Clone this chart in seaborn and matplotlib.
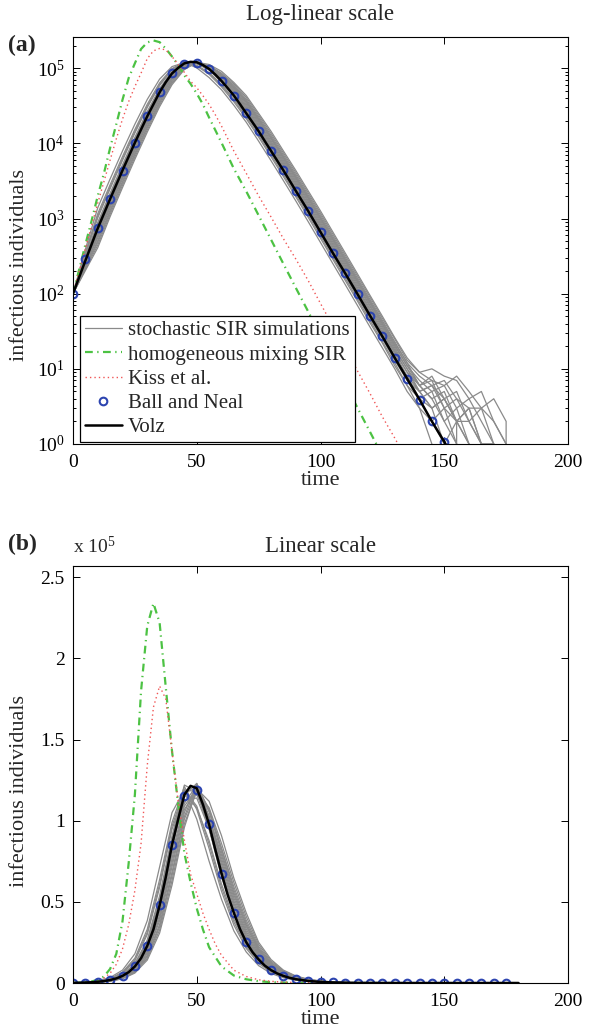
import matplotlib
matplotlib.use("Agg")
import matplotlib.pyplot as plt
import seaborn as sns
import pandas as pd
from matplotlib.lines import Line2D
from matplotlib.ticker import LogLocator, NullFormatter

# ---- values ----
# Volz (black line)
volz_t = [0, 2.5, 5, 7.5, 10, 12.5, 15, 17.5, 20, 22.5, 25, 27.5, 30, 32.5, 35, 37.5,
          40, 42.5, 45, 47.5, 50, 52.5, 55, 57.5, 60, 62.5, 65, 67.5, 70, 72.5, 75,
          77.5, 80, 82.5, 85, 87.5, 90, 95, 100, 105, 110, 115, 120, 125, 130, 135,
          140, 145, 150, 155, 160, 165, 170, 175, 180]
volz_I = [100, 166, 275, 452, 741, 1160, 1820, 2820, 4370, 6680, 10200, 15300, 22900, 33100, 47900, 65300,
          85100, 101000, 116000, 121500, 120000, 110000, 97700, 82200, 67600, 54300, 43200, 33100, 25100, 19100, 14500,
          10700, 7940, 5890, 4370, 3200, 2340, 1260, 660, 347, 186, 98, 51, 27, 14, 7.4,
          3.9, 2.0, 1.07, 0.56, 0.30, 0.16, 0.08, 0.04, 0.02]

# Ball and Neal (circles)
bn_t = list(range(0, 180, 5))
bn_I = [100, 290, 740, 1820, 4300, 10200, 23000, 48000, 85000, 115000,
        119000, 98000, 67000, 43000, 25000, 14500, 7900, 4400, 2350, 1260,
        660, 350, 186, 98, 51, 27, 14, 7.4, 3.8, 2.0,
        1.07, 0.56, 0.30, 0.16, 0.08, 0.04]

# homogeneous mixing SIR (green dash-dot)
hom_t = [0, 2.5, 5, 7.5, 10, 12.5, 15, 17.5, 20, 22.5, 25, 27.5, 30, 32.5, 35, 37.5, 40,
         42.5, 45, 47.5, 50, 52.5, 55, 60, 65, 70, 75, 80, 85, 90, 95, 100, 105, 110,
         115, 120, 125, 130]
hom_I = [100, 210, 450, 930, 2000, 4000, 8700, 18000, 38000, 74000,
         116000, 180000, 220000, 234000, 222000, 182000, 143000, 110000, 80000, 62000,
         46000, 33000, 22000, 10200, 4600, 2300, 1100, 525, 250, 120,
         58, 28, 13, 6.3, 3.0, 1.45, 0.7, 0.33]

# Kiss et al. (red dotted)
kiss_t = [0, 2.5, 5, 7.5, 10, 12.5, 15, 17.5, 20, 22.5, 25, 27.5, 30, 32.5, 35, 37.5, 40,
          42.5, 45, 47.5, 50, 52.5, 55, 57.5, 60, 65, 70, 75, 80, 85, 90, 95, 100, 105,
          110, 115, 120, 125, 130, 135]
kiss_I = [100, 200, 400, 800, 1600, 3100, 6000, 11500, 21000, 36000,
          57000, 86000, 134000, 170000, 183000, 175000, 143000, 112000, 88000, 67000,
          55000, 43000, 33000, 24000, 17000, 7900, 4000, 2000, 1050, 540,
          290, 150, 74, 37, 19, 9.3, 4.7, 2.3, 1.2, 0.6]

# stochastic SIR simulations (grey), sampled every 5 time units
sim_t = list(range(0, 185, 5))
sim_runs = [
    [100, 355, 1160, 2820, 6680, 15300, 33100, 63800, 98900, 121000, 107000, 82800, 56500, 35700,
     21300, 12100, 6640, 3620, 1950, 1040, 545, 286, 150, 79, 41, 22, 11, 6, 3, 2, 1, 0, 0, 0, 0, 0, 0],
    [100, 339, 1080, 2630, 6240, 14400, 31200, 61000, 96600, 119000, 109000, 85500, 58900, 37600,
     22500, 12800, 7050, 3850, 2070, 1110, 581, 305, 160, 84, 44, 23, 12, 6, 4, 2, 3, 1, 0, 0, 0, 0, 0],
    [100, 329, 1020, 2490, 5930, 13700, 29900, 58900, 94800, 116000, 108000, 87700, 61000, 39400,
     23800, 13600, 7480, 4100, 2200, 1180, 620, 325, 171, 90, 47, 25, 13, 7, 4, 5, 2, 1, 0, 0, 0, 0, 0],
    [100, 304, 887, 2170, 5180, 12000, 26500, 53700, 90400, 122000, 118000, 95000, 65500, 43000,
     25900, 14900, 8240, 4530, 2430, 1310, 687, 361, 189, 99, 52, 27, 14, 8, 4, 3, 1, 2, 0, 0, 0, 0, 0],
    [100, 295, 841, 2060, 4920, 11500, 25400, 51900, 88700, 119000, 118000, 95100, 67300, 44300,
     26800, 15500, 8530, 4690, 2520, 1360, 714, 375, 197, 103, 54, 28, 15, 7, 5, 3, 4, 2, 2, 1, 0, 0, 0],
    [100, 286, 796, 1950, 4670, 10900, 24300, 50100, 87100, 113000, 114000, 95000, 69200, 45700,
     28000, 16100, 8950, 4920, 2650, 1430, 752, 394, 207, 109, 57, 30, 16, 8, 5, 6, 3, 2, 1, 0, 0, 0, 0],
    [100, 275, 741, 1820, 4370, 10200, 22900, 47900, 85100, 112000, 116000, 99100, 71100, 47400,
     29200, 16900, 9400, 5160, 2790, 1500, 791, 415, 218, 114, 60, 31, 17, 9, 6, 4, 2, 3, 1, 0, 0, 0, 0],
    [100, 267, 698, 1730, 4140, 9730, 21800, 45800, 82200, 115500, 123000, 102000, 73100, 49100,
     30500, 17600, 9860, 5420, 2930, 1570, 834, 438, 230, 120, 63, 33, 17, 9, 5, 3, 4, 2, 1, 0, 0, 0, 0],
    [100, 259, 658, 1630, 3930, 9250, 20800, 43900, 79400, 110700, 122000, 101600, 75000, 50700,
     31800, 18500, 10300, 5680, 3080, 1660, 877, 460, 242, 127, 67, 35, 18, 10, 5, 6, 4, 2, 3, 1, 1, 0, 0],
    [100, 251, 621, 1550, 3730, 8770, 19800, 41900, 76700, 109000, 119500, 103000, 76900, 52500,
     33300, 19300, 10800, 5960, 3240, 1740, 925, 485, 255, 134, 70, 37, 19, 10, 6, 7, 3, 4, 2, 1, 0, 0, 0],
    [100, 244, 585, 1470, 3540, 8340, 18900, 40100, 74100, 107000, 118500, 102000, 78900, 54200,
     34800, 20100, 11400, 6250, 3400, 1830, 973, 511, 268, 141, 74, 39, 20, 11, 7, 5, 6, 3, 4, 2, 1, 0, 0],
    [100, 237, 551, 1390, 3360, 7920, 18000, 38400, 71600, 105000, 123000, 105500, 80700, 55700,
     35900, 20800, 11800, 6490, 3530, 1900, 1010, 531, 279, 146, 77, 40, 21, 11, 6, 4, 5, 2, 3, 1, 1, 0, 0],
    [100, 227, 509, 1290, 3130, 7400, 16900, 36100, 68400, 102600, 121600, 107000, 82800, 57400,
     37100, 21500, 12200, 6710, 3660, 1970, 1050, 552, 290, 152, 80, 42, 22, 12, 8, 6, 7, 4, 3, 3, 2, 1, 0],
    [100, 220, 480, 1220, 2970, 7030, 16100, 34600, 66100, 101000, 119000, 106000, 83000, 59300,
     38700, 22500, 12800, 7050, 3850, 2070, 1110, 581, 305, 160, 84, 44, 23, 12, 6, 8, 4, 5, 2, 3, 1, 0, 0],
    [100, 212, 443, 1140, 2770, 6580, 15100, 32700, 63100, 98200, 118000, 108000, 86000, 61900,
     40900, 23800, 13600, 7480, 4100, 2200, 1180, 620, 325, 171, 90, 47, 25, 13, 9, 7, 6, 8, 5, 3, 4, 2, 0],
    [100, 203, 409, 1060, 2580, 6140, 14100, 30800, 60300, 95900, 119700, 112000, 90800, 64600,
     43200, 25100, 14500, 7940, 4370, 2340, 1260, 661, 347, 182, 95, 50, 26, 14, 9, 10, 8, 7, 4, 5, 2, 1, 0],
    [100, 389, 1390, 3360, 7920, 18000, 38400, 71600, 105000, 119000, 101000, 75000, 51600, 32100,
     19100, 10700, 5890, 3200, 1720, 912, 479, 251, 132, 69, 36, 19, 10, 5, 3, 1, 0, 0, 0, 0, 0, 0, 0],
]

legend_labels = ['stochastic SIR simulations', 'homogeneous mixing SIR',
                 'Kiss et al.', 'Ball and Neal', 'Volz']

sim_df = pd.DataFrame([(k, t, v) for k, run in enumerate(sim_runs) for t, v in zip(sim_t, run)],
                      columns=['run', 't', 'I'])

GREY = '#8a8a8a'
GREEN = '#4cc243'
RED = '#f05555'
BLUE = '#2c44b0'
DASHDOT = (0, (3.5, 2.0, 0.6, 2.0))
DOTTED = (0, (1.0, 2.2))

sns.set_theme(style='ticks')
plt.rcParams['font.family'] = ['Liberation Serif', 'DejaVu Serif']
plt.rcParams['mathtext.fontset'] = 'custom'
plt.rcParams['mathtext.rm'] = 'Liberation Serif'
plt.rcParams['mathtext.it'] = 'Liberation Serif:italic'
plt.rcParams['axes.edgecolor'] = 'black'
plt.rcParams['axes.linewidth'] = 0.8


def draw(ax):
    sns.lineplot(data=sim_df, x='t', y='I', units='run', estimator=None,
                 color=GREY, lw=0.9, ax=ax, legend=False)
    sns.lineplot(x=hom_t, y=hom_I, color=GREEN, lw=1.6, linestyle=DASHDOT,
                 errorbar=None, ax=ax)
    sns.lineplot(x=kiss_t, y=kiss_I, color=RED, lw=1.0, linestyle=DOTTED,
                 errorbar=None, ax=ax)
    sns.lineplot(x=bn_t, y=bn_I, color=BLUE, marker='o', linestyle='none', ms=5.5,
                 mfc='none', mec=BLUE, mew=1.5, errorbar=None, ax=ax)
    sns.lineplot(x=volz_t, y=volz_I, color='black', lw=1.8, errorbar=None, ax=ax)
    ax.set_xlim(0, 200)
    ax.set_xticks([0, 50, 100, 150, 200])
    ax.tick_params(which='both', direction='in', top=True, right=True,
                   labelsize=14, colors='black', width=0.7)
    ax.tick_params(which='major', length=5, pad=6)
    ax.tick_params(axis='x', which='major', pad=7)
    ax.tick_params(which='minor', length=2.5)
    ax.set_xlabel('time', fontsize=16, labelpad=0)
    ax.set_ylabel('infectious individuals', fontsize=16)
    for sp in ax.spines.values():
        sp.set_color('black')


fig = plt.figure(figsize=(6.11, 10.31), dpi=100)
W, H = 611, 1031
L, R = 73, 568
A_TOP, A_BOT = 37, 444
B_TOP, B_BOT = 566, 983
ax1 = fig.add_axes([L / W, 1 - A_BOT / H, (R - L) / W, (A_BOT - A_TOP) / H])
ax2 = fig.add_axes([L / W, 1 - B_BOT / H, (R - L) / W, (B_BOT - B_TOP) / H])

# (a) log-linear
draw(ax1)
ax1.set_yscale('log')
ax1.set_ylim(1, 2.6e5)
ax1.yaxis.set_major_locator(LogLocator(base=10, numticks=10))
ax1.yaxis.set_minor_locator(LogLocator(base=10, subs=range(2, 10), numticks=20))
ax1.yaxis.set_minor_formatter(NullFormatter())
ax1.set_title('Log-linear scale', fontsize=16.5, pad=12)
ax1.yaxis.set_label_coords(-0.088, 0.44)

handles = [Line2D([], [], color=GREY, lw=0.9),
           Line2D([], [], color=GREEN, lw=1.6, linestyle=DASHDOT),
           Line2D([], [], color=RED, lw=1.0, linestyle=DOTTED),
           Line2D([], [], color=BLUE, marker='o', linestyle='none', ms=5.5,
                  mfc='none', mec=BLUE, mew=1.5),
           Line2D([], [], color='black', lw=1.8)]
leg = ax1.legend(handles, legend_labels, loc='lower left', bbox_to_anchor=(0.014, 0.004),
                 borderaxespad=0, fontsize=15, frameon=True, fancybox=False,
                 edgecolor='black', framealpha=1, handlelength=1.75, handletextpad=0.3,
                 labelspacing=0.22, borderpad=0.25)
leg.get_frame().set_linewidth(0.9)

# (b) linear
draw(ax2)
ax2.set_ylim(0, 2.57e5)
ax2.set_yticks([0, 0.5e5, 1e5, 1.5e5, 2e5, 2.5e5])
ax2.set_yticklabels(['0', '0.5', '1', '1.5', '2', '2.5'])
ax2.set_title('Linear scale', fontsize=16.5, pad=10)
ax2.yaxis.set_label_coords(-0.088, 0.46)
ax2.text(0.0, 1.022, 'x 10$^{5}$', transform=ax2.transAxes, fontsize=14,
         ha='left', va='bottom')

fig.text(8 / W, 1 - 45 / H, '(a)', fontsize=17, fontweight='bold', va='center')
fig.text(8 / W, 1 - 544 / H, '(b)', fontsize=17, fontweight='bold', va='center')

fig.savefig('out.png', dpi=100)
